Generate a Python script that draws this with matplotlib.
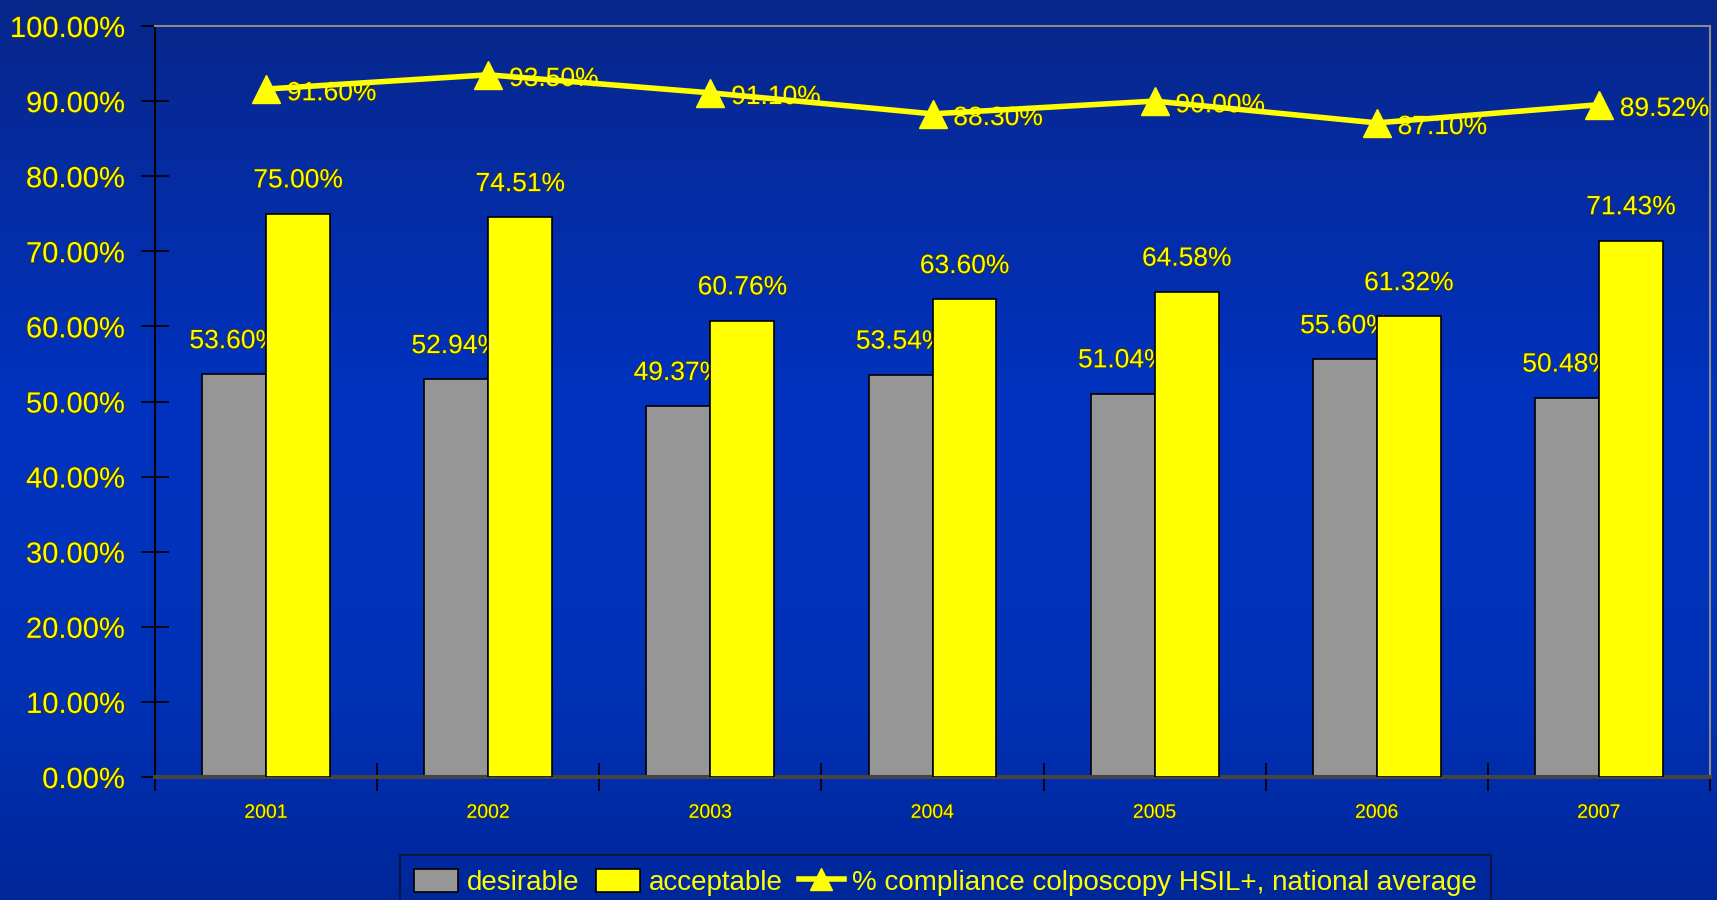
import numpy as np
import matplotlib
matplotlib.use("Agg")
import matplotlib.pyplot as plt
import matplotlib.patheffects as pe
from matplotlib.ticker import FixedLocator, FuncFormatter
from matplotlib.colors import LinearSegmentedColormap

years = ["2001", "2002", "2003", "2004", "2005", "2006", "2007"]
desirable = [53.60, 52.94, 49.37, 53.54, 51.04, 55.60, 50.48]
acceptable = [75.00, 74.51, 60.76, 63.60, 64.58, 61.32, 71.43]
national_avg = [91.60, 93.50, 91.10, 88.30, 90.00, 87.10, 89.52]

YELLOW = "#ffff00"
GRAY = "#969696"

plt.rcParams["font.family"] = ["Liberation Sans", "DejaVu Sans"]
outline = [pe.withStroke(linewidth=1.2, foreground="#3a3a10")]

fig = plt.figure(figsize=(17.17, 9.0), dpi=100)

# background gradient (navy top, brighter blue in middle, darker bottom)
bg = fig.add_axes([0, 0, 1, 1], zorder=-10)
cmap = LinearSegmentedColormap.from_list(
    "bg", [(0.0, "#08268a"), (0.45, "#0033c0"), (0.75, "#0032b8"), (1.0, "#00279a")])
bg.imshow(np.linspace(0, 1, 256).reshape(-1, 1), aspect="auto", cmap=cmap,
          extent=[0, 1, 0, 1], origin="upper")
bg.axis("off")

ax = fig.add_axes([155 / 1717, 1 - 777 / 900, (1710 - 155) / 1717, (777 - 26) / 900])
ax.patch.set_alpha(0)

x = np.arange(len(years))
w = 0.288
b1 = ax.bar(x - w / 2, desirable, w, color=GRAY, edgecolor="black", linewidth=1.2,
            zorder=2, label="desirable")
b2 = ax.bar(x + w / 2, acceptable, w, color=YELLOW, edgecolor="black", linewidth=1.2,
            zorder=4, label="acceptable")

# gray-bar labels sit under the yellow bars, as in the original
for xi, v in zip(x, desirable):
    ax.annotate(f"{v:.2f}%", (xi - w / 2, v), xytext=(0, 24), textcoords="offset points",
                ha="center", va="center", color=YELLOW, fontsize=19, zorder=3,
                path_effects=outline)
for xi, v in zip(x, acceptable):
    ax.annotate(f"{v:.2f}%", (xi + w / 2, v), xytext=(0, 24), textcoords="offset points",
                ha="center", va="center", color=YELLOW, fontsize=19, zorder=5,
                path_effects=outline)

ln, = ax.plot(x, national_avg, color=YELLOW, linewidth=4, marker="^", markersize=20,
              zorder=7, label="% compliance colposcopy HSIL+, national average")
for xi, v in zip(x, national_avg):
    ax.annotate(f"{v:.2f}%", (xi, v), xytext=(15, -3), textcoords="offset points",
                ha="left", va="center", color=YELLOW, fontsize=19, zorder=6,
                path_effects=outline)

ax.set_xlim(-0.5, len(years) - 0.5)
ax.set_ylim(0, 100)
ax.yaxis.set_major_locator(FixedLocator(np.arange(0, 101, 10)))
ax.yaxis.set_major_formatter(FuncFormatter(lambda v, p: f"{v:.2f}%"))
ax.set_xticks(x)
ax.set_xticklabels(years)
ax.set_xticks(np.arange(-0.5, len(years), 1), minor=True)

ax.tick_params(axis="y", which="major", direction="inout", length=20, width=1.2,
               color="black", labelcolor=YELLOW, labelsize=21, pad=12)
ax.tick_params(axis="x", which="major", length=0, labelcolor=YELLOW, labelsize=14, pad=20)
ax.tick_params(axis="x", which="minor", direction="inout", length=20, width=1.2, color="black")
for lbl in ax.get_yticklabels() + ax.get_xticklabels():
    lbl.set_path_effects(outline)

ax.spines["left"].set_color("black")
ax.spines["left"].set_linewidth(1.5)
ax.spines["bottom"].set_color("#444444")
ax.spines["bottom"].set_linewidth(3)
ax.spines["top"].set_color("#8a8a8a")
ax.spines["top"].set_linewidth(1.5)
ax.spines["right"].set_color("#8a8a8a")
ax.spines["right"].set_linewidth(1.5)

# legend sits low, its bottom edge running off the figure as in the original
leg = fig.legend(handles=[b1, b2, ln], loc="upper left",
                 bbox_to_anchor=(400 / 1717, 1 - 855 / 900, 0, 0),
                 bbox_transform=fig.transFigure,
                 ncol=3, frameon=True, fancybox=False, fontsize=20, handlelength=1.6,
                 handleheight=0.9, handletextpad=0.3, columnspacing=0.6, borderpad=0.5,
                 borderaxespad=0, labelcolor=YELLOW, markerscale=0.8)
leg.get_frame().set_facecolor("none")
leg.get_frame().set_edgecolor("#101030")
leg.get_frame().set_linewidth(1.5)

fig.savefig("out.png", dpi=100)
